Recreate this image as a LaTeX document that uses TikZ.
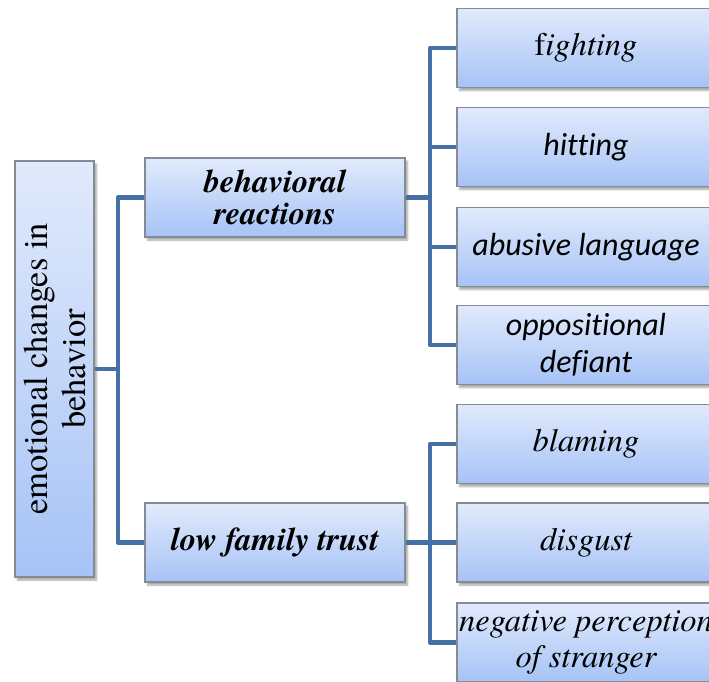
\documentclass[tikz,border=0pt]{standalone}
\usepackage{fontspec}
\setmainfont{texgyretermes}[Extension=.otf, UprightFont=*-regular,
  ItalicFont=*-italic, BoldFont=*-bold, BoldItalicFont=*-bolditalic]
\newfontfamily\calibri{Carlito}[Ligatures=NoCommon]
\usetikzlibrary{shadows.blur}
\definecolor{boxtop}{HTML}{E1EAFC}
\definecolor{boxbot}{HTML}{A6C3F6}
\definecolor{boxline}{HTML}{858B94}
\definecolor{connblue}{HTML}{4470A6}
\tikzset{
  box/.style={rectangle, draw=boxline, line width=1.2pt, top color=boxtop,
    bottom color=boxbot, inner sep=0pt, align=center,
    blur shadow={shadow xshift=2.5pt, shadow yshift=-3pt, shadow blur steps=6, shadow opacity=35}},
  rootbox/.style={box, minimum width=79pt, minimum height=416pt},
  midbox/.style={box, minimum width=260pt, minimum height=79pt,
    font=\fontsize{32.5}{32}\selectfont\bfseries\itshape},
  leafbox/.style={box, minimum width=258pt, minimum height=79pt},
  sansleaf/.style={leafbox, font=\fontsize{32}{37}\selectfont\calibri\itshape},
  serifleaf/.style={leafbox, font=\fontsize{32.5}{36}\selectfont\itshape},
  conn/.style={draw=connblue, line width=4.5pt, line join=round},
}
\begin{document}
\begin{tikzpicture}[x=1pt, y=-1pt]
\useasboundingbox (0,0) rectangle (709,681);
\clip (0,0) rectangle (709,681);

% root
\node[rootbox] (root) at (54.5,369) {};
\node[rotate=90, align=center, font=\fontsize{34.5}{38}\selectfont] (roottext)
  at (root.center) {emotional changes in\\behavior};

% second level
\node[midbox] (react) at (275,197.5) {behavioral\\reactions};
\node[midbox] (trust) at (275,542.5) {low family trust};

% leaves
\node[serifleaf] (fight) at (586,48) {{\upshape f}ighting};
\node[sansleaf] (hit) at (586,147) {hitting};
\node[sansleaf] (abuse) at (586,247) {abusive language};
\node[sansleaf] (defiant) at (586,345) {oppositional\\defiant};
\node[serifleaf] (blame) at (586,444) {blaming};
\node[serifleaf] (disgust) at (586,542.5) {disgust};
\node[serifleaf] (stranger) at (586,642.5) {negative perception\\of stranger};

% junctions
\coordinate (j0) at (118,369);
\coordinate (j1) at (430,197.5);
\coordinate (j2) at (430,542.5);

% connectors
\draw[conn] (root.east) -- (j0);
\draw[conn] (react.west) -| (j0);
\draw[conn] (trust.west) -| (j0);

\draw[conn] (react.east) -- (j1);
\draw[conn] (fight.west) -| (j1);
\draw[conn] (hit.west) -| (j1);
\draw[conn] (abuse.west) -| (j1);
\draw[conn] (defiant.west) -| (j1);

\draw[conn] (trust.east) -- (j2);
\draw[conn] (blame.west) -| (j2);
\draw[conn] (disgust.west) -- (j2);
\draw[conn] (stranger.west) -| (j2);
\end{tikzpicture}
\end{document}
